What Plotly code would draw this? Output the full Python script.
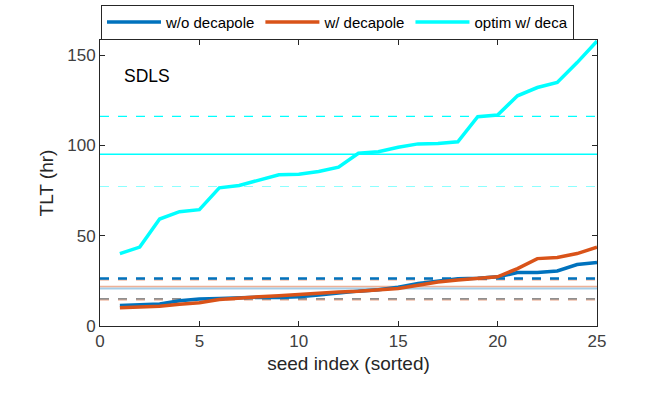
import plotly.graph_objects as go

# seed index 1..25 (sorted)
seed = list(range(1, 26))

tlt_wo_deca = [11.4, 12.0, 12.2, 14.0, 14.9, 15.2, 15.6, 15.9, 15.8, 16.2,
               17.1, 18.4, 19.3, 20.1, 21.4, 23.5, 25.0, 26.1, 26.4, 27.2,
               29.6, 29.6, 30.5, 34.0, 35.1]
tlt_w_deca = [10.1, 10.6, 11.0, 12.1, 12.9, 14.7, 15.6, 16.2, 16.7, 17.5,
              18.0, 18.8, 19.3, 19.9, 20.8, 22.6, 24.4, 25.5, 26.4, 27.2,
              31.8, 37.3, 37.9, 40.1, 43.6]
tlt_optim = [40.1, 43.7, 59.2, 63.3, 64.4, 76.5, 77.8, 80.9, 83.7, 84.0,
             85.5, 87.9, 95.6, 96.5, 98.9, 100.8, 101.0, 102.0, 115.8, 116.8,
             127.4, 132.0, 134.8, 145.8, 157.7]

# reference levels (mean and +/- spread)
mean_wo, hi_wo, lo_wo = 20.7, 26.3, 15.0
mean_w, hi_w, lo_w = 21.9, 25.6, 14.4
mean_opt, hi_opt, lo_opt = 95.0, 116.0, 77.2

BLUE = "#0072BD"
ORANGE = "#D95319"
CYAN = "#00FFFF"

fig = go.Figure()

def hline(y, color, width, dash):
    fig.add_trace(go.Scatter(
        x=[0, 25], y=[y, y], mode="lines",
        line=dict(color=color, width=width, dash=dash),
        showlegend=False, hoverinfo="skip"
    ))

# levels first so the curves sit on top
hline(lo_w, "rgba(217,83,25,0.35)", 1.5, "dash")
hline(lo_wo, "rgba(80,80,80,0.85)", 1.2, "dash")
hline(hi_w, "rgba(217,83,25,0.35)", 2, "dash")
hline(hi_wo, BLUE, 2.5, "dash")
hline(mean_wo, "rgba(0,114,189,0.35)", 2, "solid")
hline(mean_w, "rgba(217,83,25,0.45)", 1.5, "solid")
hline(mean_opt, CYAN, 1.5, "solid")
hline(hi_opt, CYAN, 1.2, "dash")
hline(lo_opt, "rgba(0,255,255,0.45)", 1.2, "dash")

fig.add_trace(go.Scatter(x=seed, y=tlt_wo_deca, mode="lines", name="w/o decapole",
                         line=dict(color=BLUE, width=3.5)))
fig.add_trace(go.Scatter(x=seed, y=tlt_w_deca, mode="lines", name="w/ decapole",
                         line=dict(color=ORANGE, width=3.5)))
fig.add_trace(go.Scatter(x=seed, y=tlt_optim, mode="lines", name="optim w/ deca",
                         line=dict(color=CYAN, width=3.5)))

fig.add_annotation(x=0.045, y=0.875, xref="paper", yref="paper", text="SDLS",
                   showarrow=False, xanchor="left", yanchor="middle",
                   font=dict(size=17.5, color="#000000"))

axis_style = dict(
    showline=True, linecolor="#262626", linewidth=1, mirror="ticks",
    ticks="inside", ticklen=5, tickcolor="#262626", showgrid=False,
    zeroline=False, tickfont=dict(size=17, color="#404040"),
)

fig.update_layout(
    width=664, height=399,
    margin=dict(l=100, r=67, t=40, b=73, autoexpand=False),
    paper_bgcolor="white", plot_bgcolor="white",
    font=dict(family="Arial, Liberation Sans, sans-serif", color="#262626"),
    xaxis=dict(range=[0, 25], tickvals=[0, 5, 10, 15, 20, 25],
               title=dict(text="seed index (sorted)", font=dict(size=19), standoff=6),
               **axis_style),
    yaxis=dict(range=[0, 158.3], tickvals=[0, 50, 100, 150],
               title=dict(text="TLT (hr)", font=dict(size=19), standoff=8),
               **axis_style),
    legend=dict(orientation="h", x=0.002, y=0.988, yref="container",
                xanchor="left", yanchor="top",
                bordercolor="#262626", borderwidth=1, bgcolor="white",
                font=dict(size=15, color="#000000"), itemwidth=54,
                tracegroupgap=0),
    showlegend=True,
)

fig.write_html("out.html", config={"displayModeBar": False},
               post_script="document.body.style.margin='0';")
